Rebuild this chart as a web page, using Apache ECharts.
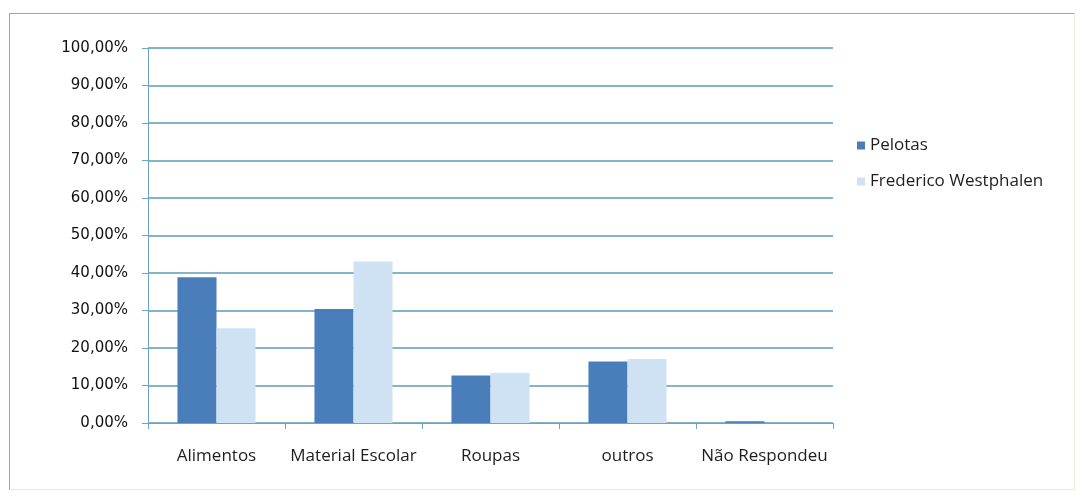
<!DOCTYPE html>
<html>
<head>
<meta charset="utf-8">
<script src="https://cdn.jsdelivr.net/npm/echarts@6/dist/echarts.min.js"></script>
<style>
  html, body { margin: 0; padding: 0; background: #fff; }
  #frame { position: absolute; left: 9px; top: 13px; width: 1066px; height: 477px;
           border: 1px solid #7fb0c8; border-right-color: #f2e6e0; border-bottom-color: #f2e6e0; box-sizing: border-box; }
  #chart { width: 1083px; height: 498px; }
</style>
</head>
<body>
<div id="frame"></div>
<div id="chart"></div>
<script>
var categorias = ["Alimentos", "Material Escolar", "Roupas", "outros", "Não Respondeu"];
var pelotas = [38.9, 30.4, 12.7, 16.4, 0.5];
var fredericoW = [25.3, 43.1, 13.4, 17.1, 0];
var yTicks = [0, 10, 20, 30, 40, 50, 60, 70, 80, 90, 100];

(function () {
    var myChart = echarts.init(document.getElementById('chart'));
    var option = {
        animation: false,
        grid: {
            left: 148,
            right: 250,
            top: 48,
            bottom: 75
        },
        legend: {
            orient: 'vertical',
            left: 852,
            top: 132,
            itemWidth: 8,
            itemHeight: 8,
            itemGap: 19,
            icon: 'rect',
            textStyle: {
                color: '#1e1e1e',
                fontSize: 17,
                fontFamily: 'Open Sans'
            },
            data: ['Pelotas', 'Frederico Westphalen']
        },
        xAxis: {
            type: 'category',
            data: categorias,
            axisLine: { lineStyle: { color: '#6aa6c0', width: 1 } },
            axisTick: { show: true, interval: 0, length: 6, lineStyle: { color: '#6aa6c0' } },
            axisLabel: {
                interval: 0,
                color: '#1e1e1e',
                fontSize: 17,
                fontFamily: 'Open Sans',
                margin: 25
            }
        },
        yAxis: {
            type: 'value',
            min: 0,
            max: 100,
            interval: 10,
            axisLine: { show: true, lineStyle: { color: '#6aa6c0', width: 1 } },
            axisTick: { show: true, length: 6, lineStyle: { color: '#6aa6c0' } },
            axisLabel: {
                color: '#111',
                fontSize: 15,
                fontFamily: 'DejaVu Sans',
                margin: 20,
                formatter: function (v) {
                    if (yTicks.indexOf(v) < 0) return '';
                    return v.toFixed(2).replace('.', ',') + '%';
                }
            },
            splitLine: { lineStyle: { color: '#5b9bb8', width: 1.5 } }
        },
        series: [
            {
                name: 'Pelotas',
                type: 'bar',
                data: pelotas,
                barGap: '0%',
                barCategoryGap: '43%',
                itemStyle: { color: '#4a7ebb' }
            },
            {
                name: 'Frederico Westphalen',
                type: 'bar',
                data: fredericoW,
                itemStyle: { color: '#cfe2f3' }
            }
        ]
    };
    myChart.setOption(option);
})();
</script>
</body>
</html>
